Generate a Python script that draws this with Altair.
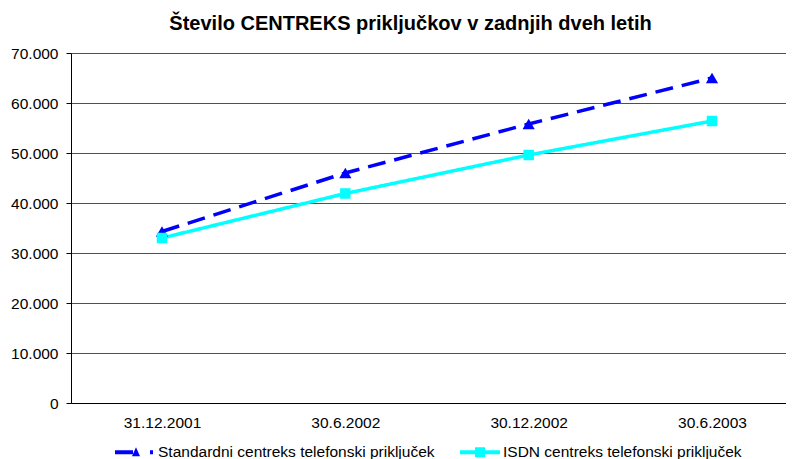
import altair as alt
import pandas as pd

dates = ["31.12.2001", "30.6.2002", "30.12.2002", "30.6.2003"]
series_names = ["Standardni centreks telefonski priključek", "ISDN centreks telefonski priključek"]
standard = [34300, 46000, 55800, 65000]
isdn = [33000, 41900, 49600, 56400]
colors = ["#0000ff", "#00ffff"]
shapes = ["triangle-up", "square"]
marker_sizes = [150, 110]
# legend symbols: short line with the series marker (unit box -1..1)
legend_shapes = [
    "M-1,-0.1H-0.1V0.1H-1Z M-0.15,0.2L0.05,-0.25L0.25,0.2Z M0.75,-0.1H0.9V0.1H0.75Z",
    "M-1,-0.1H1V0.1H-1Z M-0.25,-0.25H0.25V0.25H-0.25Z",
]

rows = []
for d, v in zip(dates, standard):
    rows.append({"date": d, "series": series_names[0], "value": v})
for d, v in zip(dates, isdn):
    rows.append({"date": d, "series": series_names[1], "value": v})
df = pd.DataFrame(rows)

x = alt.X("date:N", sort=dates, title=None,
          scale=alt.Scale(type="point", padding=0.45, align=0.5515),
          axis=alt.Axis(labelAngle=0, ticks=False, grid=False, domainColor="black",
                        labelFont="Liberation Sans", labelFontSize=15.5,
                        labelColor="black", labelPadding=12))
y = alt.Y("value:Q", title=None,
          scale=alt.Scale(domain=[0, 70000]),
          axis=alt.Axis(values=list(range(0, 70001, 10000)),
                        labelExpr="replace(format(datum.value, ','), ',', '.')",
                        labelFont="Liberation Sans", labelFontSize=15.5, labelColor="black",
                        tickColor="black", tickSize=5, labelPadding=8,
                        domainColor="black", gridColor="#505050", gridWidth=1))

color_scale = alt.Scale(domain=series_names, range=colors)
legend = alt.Legend(title=None, orient="none", legendX=44, legendY=379,
                    direction="horizontal", symbolSize=1600, symbolStrokeWidth=0,
                    labelFont="Liberation Sans", labelFontSize=15.5,
                    labelColor="black", labelOffset=3, columnPadding=25,
                    labelLimit=0, padding=0)

dash = alt.StrokeDash("series:N", sort=series_names,
                      scale=alt.Scale(domain=series_names, range=[[18, 9], [1, 0]]),
                      legend=None)

lines = alt.Chart(df).mark_line(strokeWidth=3.5).encode(
    x=x, y=y,
    color=alt.Color("series:N", sort=series_names, scale=color_scale, legend=legend),
    strokeDash=dash)

point_layers = []
for name, c, s, sz in zip(series_names, colors, shapes, marker_sizes):
    point_layers.append(
        alt.Chart(df).transform_filter(alt.datum.series == name)
        .mark_point(filled=True, size=sz, opacity=1, color=c, shape=s)
        .encode(x=x, y=y)
    )

# layer carrying only the legend symbols (draws no marks)
legend_layer = alt.Chart(df).transform_filter("false").mark_point(
    filled=True, size=1600, opacity=1).encode(
    x=x, y=y,
    color=alt.Color("series:N", sort=series_names, scale=color_scale, legend=legend),
    shape=alt.Shape("series:N", sort=series_names,
                    scale=alt.Scale(domain=series_names, range=legend_shapes),
                    legend=legend))

chart = alt.layer(lines, *point_layers, legend_layer).properties(
    width=715, height=350,
    title=alt.TitleParams("Število CENTREKS priključkov v zadnjih dveh letih",
                          font="Liberation Sans", fontSize=20, fontWeight="bold",
                          color="black", dx=-18, offset=12),
    autosize=alt.AutoSizeParams(type="none"),
    padding={"left": 63, "top": 45, "right": 0, "bottom": 56},
).configure_view(stroke=None).configure(background="white").configure_axisY(
    labelFontSize=15.5, labelFont="Liberation Sans")

chart.save("out.html", embed_options={"renderer": "svg", "actions": False})
